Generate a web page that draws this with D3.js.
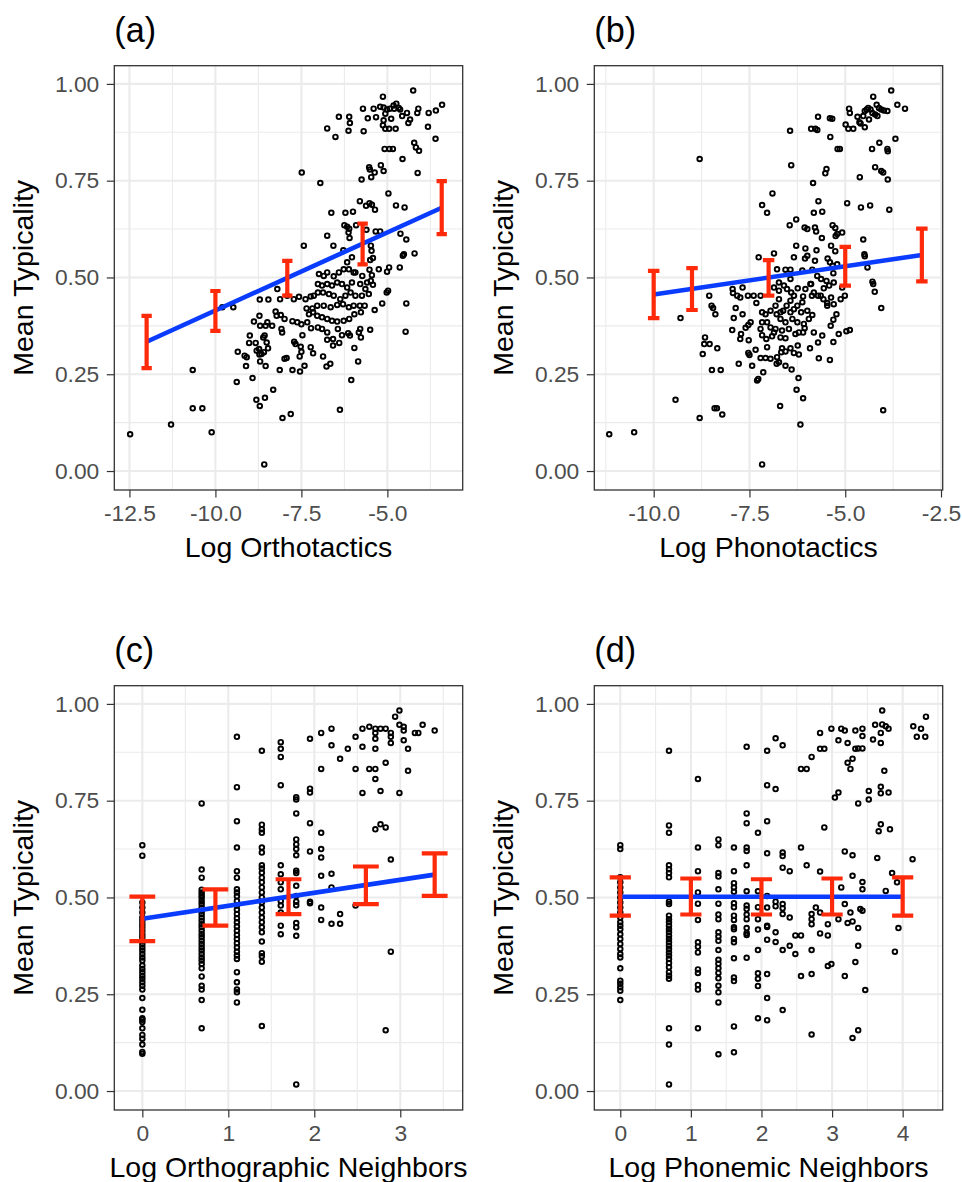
<!DOCTYPE html>
<html>
<head>
<meta charset="utf-8">
<script src="https://cdn.jsdelivr.net/npm/d3@7"></script>
<style>
  body { margin: 0; background: #fff; }
  svg text { font-family: "Liberation Sans", Arial, Helvetica, sans-serif; }
</style>
</head>
<body>
<div id="chart"></div>
<script>
const svgWidth = 962
const svgHeight = 1182

// tick labels
const yTicks = [0, 0.25, 0.5, 0.75, 1]
const xTicksA = [-12.5, -10, -7.5, -5]
const xTicksB = [-10, -7.5, -5, -2.5]
const xTicksC = [0, 1, 2, 3]
const xTicksD = [0, 1, 2, 3, 4]

const panelLabels = ["(a)", "(b)", "(c)", "(d)"]
const xTitles = ["Log Orthotactics", "Log Phonotactics", "Log Orthographic Neighbors", "Log Phonemic Neighbors"]
const yTitle = "Mean Typicality"

// model estimates (blue line goes through barMid)
const barXA = [-12, -10, -7.91, -5.72, -3.42]
const barMidA = [0.334, 0.414, 0.498, 0.586, 0.680]
const barLowA = [0.266, 0.362, 0.453, 0.534, 0.612]
const barHighA = [0.401, 0.465, 0.543, 0.639, 0.749]

const barXB = [-10, -9, -7, -5, -3]
const barMidB = [0.456, 0.470, 0.499, 0.529, 0.558]
const barLowB = [0.395, 0.416, 0.453, 0.479, 0.490]
const barHighB = [0.517, 0.524, 0.545, 0.579, 0.626]

const barXC = [0, 0.85, 1.7, 2.6, 3.4]
const barMidC = [0.445, 0.474, 0.502, 0.531, 0.559]
const barLowC = [0.387, 0.427, 0.457, 0.483, 0.504]
const barHighC = [0.502, 0.521, 0.547, 0.580, 0.614]

const barXD = [0, 1, 2, 3, 4]
const barMidD = [0.502, 0.502, 0.502, 0.502, 0.502]
const barLowD = [0.453, 0.456, 0.456, 0.456, 0.453]
const barHighD = [0.552, 0.549, 0.547, 0.549, 0.552]

// observed words [x, mean typicality]
const pointsA = [
[-4.25,0.983],[-5.13,0.967],[-3.41,0.946],[-3.59,0.931],[-3.80,0.925],[-3.82,0.889],[-3.60,0.858],[-4.10,0.936],[-4.13,0.925],[-4.43,0.925],
[-4.57,0.917],[-4.34,0.908],[-4.39,0.899],[-4.74,0.949],[-4.82,0.944],[-4.80,0.936],[-4.67,0.938],[-4.63,0.934],[-4.93,0.936],[-5.01,0.934],
[-5.06,0.923],[-5.21,0.941],[-5.11,0.939],[-5.33,0.914],[-5.40,0.936],[-5.57,0.911],[-5.71,0.936],[-5.69,0.878],[-6.11,0.915],[-6.09,0.899],
[-6.13,0.879],[-6.41,0.915],[-6.75,0.885],[-6.51,0.863],[-5.13,0.893],[-4.95,0.884],[-4.76,0.884],[-5.06,0.884],[-5.11,0.906],[-4.89,0.910],
[-4.22,0.848],[-4.17,0.836],[-4.08,0.827],[-4.56,0.806],[-5.08,0.832],[-4.94,0.832],[-4.84,0.832],[-5.53,0.785],[-5.51,0.779],[-5.19,0.790],
[-5.11,0.775],[-5.37,0.771],[-5.47,0.759],[-5.75,0.753],[-4.12,0.770],[-4.97,0.717],[-4.75,0.686],[-4.50,0.681],[-5.80,0.697],[-5.52,0.692],
[-5.45,0.688],[-5.36,0.675],[-5.62,0.685],[-7.49,0.771],[-6.95,0.744],[-6.63,0.667],[-6.22,0.667],[-6.00,0.670],[-6.25,0.635],[-6.17,0.631],
[-6.13,0.616],[-6.10,0.602],[-6.11,0.626],[-5.91,0.635],[-5.61,0.623],[-5.34,0.619],[-5.21,0.619],[-4.62,0.613],[-4.45,0.598],[-6.75,0.608],
[-7.43,0.582],[-6.57,0.582],[-6.28,0.570],[-6.03,0.552],[-5.48,0.582],[-5.46,0.569],[-5.50,0.545],[-5.42,0.550],[-4.95,0.526],[-5.01,0.515],
[-4.64,0.526],[-4.52,0.560],[-4.55,0.556],[-4.21,0.562],[-5.25,0.521],[-5.52,0.520],[-5.45,0.506],[-5.48,0.491],[-5.59,0.487],[-5.42,0.481],
[-5.93,0.513],[-5.73,0.504],[-6.12,0.521],[-5.98,0.513],[-6.17,0.539],[-6.27,0.521],[-6.41,0.513],[-6.56,0.503],[-6.75,0.513],[-6.85,0.504],
[-6.99,0.509],[-7.02,0.483],[-6.90,0.479],[-6.75,0.483],[-6.61,0.479],[-6.46,0.487],[-6.32,0.483],[-6.17,0.474],[-6.03,0.487],[-5.79,0.483],
[-5.64,0.470],[-5.54,0.457],[-5.74,0.453],[-5.93,0.453],[-6.07,0.461],[-6.22,0.453],[-6.37,0.444],[-6.56,0.453],[-6.70,0.457],[-6.87,0.461],
[-7.02,0.461],[-7.14,0.453],[-7.23,0.451],[-7.38,0.444],[-7.57,0.450],[-7.72,0.444],[-7.91,0.453],[-8.12,0.444],[-8.46,0.443],[-8.71,0.443],
[-9.48,0.423],[-9.80,0.423],[-8.20,0.470],[-5.02,0.461],[-4.98,0.466],[-4.45,0.433],[-4.47,0.360],[-5.15,0.433],[-5.37,0.416],[-5.66,0.427],
[-5.77,0.410],[-5.96,0.405],[-6.11,0.393],[-6.27,0.388],[-6.46,0.386],[-6.61,0.388],[-6.75,0.393],[-6.90,0.397],[-7.04,0.401],[-7.16,0.410],
[-7.28,0.405],[-7.35,0.420],[-7.18,0.420],[-7.04,0.427],[-6.85,0.427],[-6.65,0.423],[-6.46,0.429],[-6.29,0.431],[-6.12,0.423],[-5.98,0.427],
[-5.80,0.427],[-5.79,0.367],[-5.83,0.358],[-5.50,0.365],[-5.77,0.345],[-5.96,0.318],[-5.85,0.283],[-6.05,0.235],[-6.09,0.350],[-6.14,0.356],
[-6.32,0.351],[-6.44,0.367],[-6.58,0.341],[-6.58,0.324],[-6.75,0.358],[-6.75,0.339],[-6.90,0.367],[-7.02,0.371],[-7.22,0.369],[-7.33,0.384],
[-7.50,0.379],[-7.62,0.384],[-7.76,0.387],[-7.99,0.393],[-8.10,0.403],[-8.25,0.412],[-8.22,0.401],[-8.08,0.367],[-8.06,0.358],[-8.35,0.375],
[-8.49,0.384],[-8.54,0.375],[-8.72,0.401],[-8.88,0.386],[-8.70,0.375],[-9.00,0.350],[-9.02,0.331],[-8.83,0.331],[-8.73,0.315],[-8.61,0.345],
[-8.57,0.350],[-8.51,0.332],[-8.47,0.317],[-8.59,0.307],[-8.72,0.301],[-8.70,0.283],[-8.54,0.271],[-8.66,0.302],[-8.80,0.311],[-9.09,0.294],
[-9.15,0.298],[-9.35,0.308],[-9.11,0.271],[-8.92,0.240],[-9.38,0.230],[-8.13,0.261],[-7.99,0.290],[-7.93,0.292],[-7.71,0.334],[-7.67,0.328],
[-7.47,0.351],[-7.52,0.321],[-7.50,0.308],[-7.55,0.296],[-7.76,0.261],[-7.54,0.257],[-7.41,0.272],[-7.23,0.320],[-7.16,0.304],[-6.87,0.296],
[-6.77,0.270],[-6.66,0.277],[-6.40,0.331],[-10.66,0.261],[-10.66,0.162],[-10.38,0.162],[-11.29,0.120],[-10.11,0.100],[-12.48,0.095],[-8.81,0.184],
[-8.71,0.168],[-8.56,0.189],[-8.32,0.210],[-8.05,0.137],[-7.81,0.147],[-6.38,0.158],[-8.58,0.017]
]

const pointsB = [
[-3.80,0.983],[-4.27,0.967],[-3.64,0.946],[-3.44,0.936],[-4.18,0.946],[-4.12,0.938],[-4.06,0.934],[-3.99,0.931],[-3.90,0.930],[-4.40,0.938],
[-4.34,0.934],[-4.44,0.934],[-4.29,0.925],[-4.22,0.921],[-4.16,0.917],[-4.49,0.930],[-4.53,0.917],[-4.38,0.908],[-4.90,0.936],[-4.88,0.925],
[-4.68,0.915],[-4.63,0.901],[-4.60,0.898],[-4.49,0.888],[-4.99,0.895],[-4.92,0.884],[-4.79,0.884],[-5.40,0.911],[-5.34,0.910],[-5.71,0.915],
[-5.89,0.884],[-5.78,0.884],[-5.73,0.881],[-6.44,0.879],[-5.39,0.863],[-3.69,0.858],[-4.11,0.848],[-4.30,0.832],[-3.90,0.832],[-3.89,0.826],
[-5.14,0.832],[-5.20,0.832],[-8.80,0.806],[-6.41,0.790],[-5.49,0.780],[-5.52,0.769],[-4.22,0.785],[-4.06,0.775],[-4.01,0.771],[-3.89,0.753],
[-4.62,0.759],[-5.84,0.744],[-6.90,0.717],[-5.70,0.697],[-4.95,0.692],[-4.59,0.681],[-4.35,0.686],[-3.85,0.675],[-7.17,0.687],[-7.04,0.667],
[-5.82,0.667],[-5.60,0.670],[-6.45,0.635],[-6.28,0.650],[-6.06,0.629],[-5.99,0.625],[-5.79,0.629],[-5.76,0.619],[-5.33,0.635],[-5.26,0.628],
[-5.08,0.616],[-5.21,0.612],[-5.25,0.607],[-5.61,0.602],[-4.53,0.598],[-6.28,0.582],[-6.04,0.575],[-5.75,0.570],[-5.99,0.556],[-6.05,0.549],
[-5.79,0.543],[-5.46,0.549],[-5.37,0.582],[-5.26,0.568],[-5.40,0.539],[-5.33,0.530],[-5.21,0.534],[-6.34,0.552],[-6.86,0.562],[-7.26,0.552],
[-4.50,0.560],[-4.49,0.555],[-4.42,0.526],[-4.29,0.489],[-4.27,0.483],[-4.23,0.463],[-4.06,0.421],[-5.08,0.474],[-5.01,0.453],[-5.12,0.444],
[-5.31,0.511],[-5.30,0.487],[-5.42,0.479],[-5.49,0.491],[-5.56,0.472],[-5.63,0.496],[-5.73,0.504],[-5.91,0.483],[-5.82,0.461],[-5.71,0.453],
[-5.57,0.444],[-5.47,0.434],[-5.30,0.431],[-5.23,0.405],[-5.31,0.391],[-5.38,0.375],[-5.17,0.354],[-4.97,0.361],[-4.88,0.364],[-5.31,0.333],
[-5.60,0.350],[-5.71,0.332],[-5.82,0.358],[-5.92,0.317],[-5.69,0.291],[-5.40,0.287],[-6.10,0.358],[-6.06,0.369],[-6.30,0.354],[-6.24,0.324],
[-6.43,0.317],[-6.34,0.305],[-6.21,0.301],[-6.65,0.317],[-6.67,0.307],[-6.56,0.309],[-6.78,0.294],[-6.79,0.277],[-6.73,0.281],[-6.56,0.272],
[-6.40,0.262],[-6.95,0.290],[-7.08,0.292],[-7.21,0.292],[-7.34,0.313],[-7.53,0.305],[-7.50,0.300],[-7.43,0.272],[-7.78,0.277],[-7.14,0.255],
[-7.30,0.234],[-7.27,0.238],[-6.22,0.240],[-6.27,0.210],[-6.10,0.188],[-6.70,0.168],[-6.17,0.120],[-7.17,0.017],[-4.01,0.157],[-9.43,0.184],
[-8.80,0.137],[-8.41,0.162],[-8.35,0.162],[-8.21,0.146],[-11.16,0.095],[-10.51,0.100],[-8.48,0.261],[-8.25,0.261],[-8.72,0.302],[-8.68,0.328],
[-8.54,0.328],[-8.66,0.345],[-8.34,0.317],[-9.30,0.395],[-8.55,0.453],[-8.49,0.427],[-8.45,0.421],[-8.39,0.405],[-7.94,0.470],[-7.93,0.460],
[-7.82,0.453],[-7.68,0.474],[-7.74,0.448],[-7.54,0.453],[-7.39,0.453],[-7.21,0.453],[-7.32,0.434],[-7.86,0.421],[-7.91,0.395],[-7.68,0.405],
[-7.47,0.384],[-7.53,0.377],[-7.60,0.370],[-7.72,0.354],[-7.74,0.341],[-7.95,0.364],[-7.52,0.338],[-7.17,0.351],[-7.06,0.341],[-6.91,0.348],
[-7.04,0.320],[-6.86,0.474],[-6.73,0.466],[-6.60,0.479],[-6.52,0.470],[-6.41,0.461],[-6.34,0.453],[-6.43,0.440],[-6.53,0.427],[-6.62,0.414],
[-6.73,0.444],[-6.82,0.427],[-6.95,0.414],[-7.08,0.405],[-7.17,0.410],[-6.79,0.405],[-6.69,0.393],[-6.56,0.384],[-6.34,0.418],[-6.25,0.427],
[-6.12,0.436],[-6.15,0.410],[-5.99,0.414],[-5.86,0.403],[-5.95,0.393],[-6.08,0.380],[-6.25,0.384],[-6.38,0.393],[-6.47,0.367],[-6.65,0.363],
[-6.82,0.367],[-6.95,0.371],[-7.04,0.384],[-7.17,0.384],[-7.21,0.367],[-6.86,0.358],[-6.69,0.345],[-6.56,0.343],[-6.78,0.521],[-6.56,0.520],
[-6.43,0.520],[-6.12,0.518],[-5.89,0.483],[-5.86,0.520],[-6.10,0.451],[-6.24,0.472],[-6.04,0.470],[-5.87,0.453],[-5.64,0.453],[-5.47,0.427],
[-5.37,0.448],[-6.43,0.496],[-6.73,0.487],[-6.69,0.410],[-6.43,0.410],[-6.21,0.358]
]

// columns of words sharing the same neighbour count [x, [typicality...]]
const pointsC = [
[0, [0.635,0.608,0.487,0.474,0.461,0.448,0.440,0.431,0.423,0.414,0.405,0.397,0.388,0.380,0.371,0.363,0.354,0.345,0.337,0.324,0.315,0.307,0.298,0.290,0.281,0.272,0.262,0.240,0.210,0.188,0.184,0.178,0.162,0.145,0.135,0.120,0.101,0.096]],
[0.69, [0.743,0.572,0.551,0.520,0.513,0.506,0.499,0.491,0.483,0.474,0.466,0.457,0.448,0.440,0.431,0.423,0.414,0.405,0.397,0.388,0.380,0.371,0.363,0.354,0.345,0.337,0.328,0.317,0.296,0.272,0.262,0.235,0.162]],
[1.10, [0.915,0.785,0.697,0.629,0.568,0.551,0.521,0.513,0.503,0.491,0.479,0.468,0.457,0.446,0.436,0.425,0.414,0.403,0.393,0.382,0.371,0.360,0.350,0.341,0.307,0.281,0.262,0.255,0.229]],
[1.39, [0.879,0.688,0.676,0.667,0.629,0.616,0.583,0.575,0.564,0.551,0.539,0.526,0.513,0.500,0.487,0.474,0.461,0.448,0.436,0.423,0.410,0.386,0.356,0.348,0.334,0.168]],
[1.61, [0.901,0.884,0.863,0.790,0.583,0.560,0.539,0.521,0.491,0.479,0.461,0.427,0.405]],
[1.79, [0.759,0.753,0.717,0.650,0.637,0.625,0.609,0.569,0.563,0.530,0.504,0.489,0.480,0.434,0.423,0.401,0.017]],
[1.95, [0.910,0.781,0.771,0.692,0.619,0.489,0.485]],
[2.08, [0.925,0.832,0.667,0.625,0.603,0.556,0.474,0.442]],
[2.20, [0.936,0.893,0.561,0.526,0.432]],
[2.30, [0.858,0.457,0.432]],
[2.39, [0.884]],
[2.48, [0.915,0.832,0.479]],
[2.56, [0.936,0.889,0.770]],
[2.64, [0.941,0.832]],
[2.71, [0.936,0.925,0.910,0.884,0.832,0.806,0.676]],
[2.77, [0.936,0.775,0.689]],
[2.83, [0.936,0.848,0.681,0.157]],
[2.89, [0.925,0.915,0.899,0.598,0.360]],
[2.94, [0.967]],
[2.99, [0.983,0.946,0.770]],
[3.04, [0.941,0.931,0.906]],
[3.09, [0.884,0.827]],
[3.17, [0.925]],
[3.21, [0.925]],
[3.26, [0.946]],
[3.40, [0.931]]
]

const pointsD = [
[0, [0.635,0.625,0.552,0.539,0.526,0.513,0.500,0.487,0.474,0.461,0.448,0.436,0.427,0.418,0.405,0.393,0.380,0.367,0.354,0.345,0.317,0.285,0.277,0.268,0.259,0.235]],
[0.69, [0.879,0.686,0.667,0.583,0.573,0.563,0.552,0.489,0.483,0.453,0.444,0.436,0.427,0.418,0.410,0.401,0.393,0.384,0.375,0.367,0.358,0.350,0.341,0.331,0.320,0.307,0.298,0.290,0.162,0.120,0.017]],
[1.10, [0.806,0.629,0.568,0.513,0.484,0.442,0.384,0.373,0.358,0.314,0.305,0.274,0.262,0.162]],
[1.39, [0.650,0.635,0.563,0.554,0.521,0.484,0.456,0.444,0.410,0.399,0.388,0.364,0.339,0.329,0.317,0.305,0.291,0.272,0.255,0.229,0.095]],
[1.61, [0.629,0.568,0.537,0.526,0.515,0.485,0.475,0.453,0.442,0.423,0.418,0.393,0.384,0.343,0.293,0.284,0.167,0.100]],
[1.79, [0.889,0.717,0.692,0.629,0.620,0.583,0.516,0.479,0.470,0.456,0.444,0.421,0.408,0.403,0.344]],
[1.95, [0.667,0.516,0.475,0.444,0.417,0.364,0.304,0.290,0.271,0.188]],
[2.08, [0.879,0.790,0.697,0.614,0.504,0.474,0.427,0.424,0.391,0.302,0.240,0.183]],
[2.20, [0.911,0.780,0.489,0.477,0.410,0.385]],
[2.30, [0.893,0.616,0.607,0.577,0.483,0.472,0.457,0.364,0.209]],
[2.40, [0.568,0.448,0.375]],
[2.48, [0.402,0.354]],
[2.56, [0.832,0.629,0.402,0.297]],
[2.64, [0.832,0.583]],
[2.71, [0.863,0.457,0.444,0.431,0.364,0.302,0.146]],
[2.77, [0.474]],
[2.83, [0.925,0.884,0.567,0.461,0.407]],
[2.89, [0.884,0.681]],
[2.94, [0.431,0.402,0.323]],
[2.99, [0.936,0.328]],
[3.04, [0.758]],
[3.09, [0.771,0.906,0.444]],
[3.13, [0.936,0.526]],
[3.18, [0.931,0.619,0.483,0.297]],
[3.22, [0.899,0.434,0.848]],
[3.26, [0.461,0.832]],
[3.29, [0.858,0.609,0.556,0.438,0.137]],
[3.33, [0.931,0.884,0.333]],
[3.37, [0.743,0.421,0.375,0.157,0.885]],
[3.40, [0.470]],
[3.43, [0.936,0.917,0.885,0.540,0.521,0.466]],
[3.47, [0.261]],
[3.52, [0.775,0.753]],
[3.58, [0.908]],
[3.61, [0.946]],
[3.64, [0.602]],
[3.66, [0.671]],
[3.69, [0.786,0.769,0.689,0.925,0.899]],
[3.71, [0.983,0.947]],
[3.74, [0.827]],
[3.76, [0.942,0.517]],
[3.80, [0.936,0.771]],
[3.82, [0.676]],
[3.85, [0.563]],
[3.89, [0.360]],
[3.92, [0.539]],
[3.94, [0.421]],
[4.14, [0.599]],
[4.15, [0.942]],
[4.20, [0.915]],
[4.26, [0.936]],
[4.32, [0.915]],
[4.33, [0.967]]
]

// layout
const panelW = 348.4
const panelH = 424.3
const yDomain = [-0.049, 1.047]
const barHalfWidth = 0.15
const fontSans = '"Liberation Sans", Arial, Helvetica, sans-serif'

const flatten = cols => cols.flatMap(([x, ys]) => ys.map(v => [x, v]))

const bars = (xs, mid, lo, hi) => xs.map((x, i) => ({ x: x, mid: mid[i], lo: lo[i], hi: hi[i] }))

const panels = [
  { left: 114.3, top: 65.7, xDomain: [-12.94, -2.81], xTicks: xTicksA, fmt: d => d.toFixed(1),
    points: pointsA, bars: bars(barXA, barMidA, barLowA, barHighA) },
  { left: 594.3, top: 65.7, xDomain: [-11.55, -2.456], xTicks: xTicksB, fmt: d => d.toFixed(1),
    points: pointsB, bars: bars(barXB, barMidB, barLowB, barHighB) },
  { left: 114.3, top: 685.7, xDomain: [-0.326, 3.726], xTicks: xTicksC, fmt: d => d.toFixed(0),
    points: flatten(pointsC), bars: bars(barXC, barMidC, barLowC, barHighC) },
  { left: 594.3, top: 685.7, xDomain: [-0.368, 4.567], xTicks: xTicksD, fmt: d => d.toFixed(0),
    points: flatten(pointsD), bars: bars(barXD, barMidD, barLowD, barHighD) }
]

const svg = d3.select("#chart").append("svg")
  .attr("width", svgWidth)
  .attr("height", svgHeight)
  .style("display", "block")

svg.append("rect").attr("width", svgWidth).attr("height", svgHeight).attr("fill", "#fff")

// minor breaks sit half way between the major ones
function minorBreaks(ticks, domain) {
  const step = ticks[1] - ticks[0]
  const out = []
  for (let v = ticks[0] - step / 2; v <= domain[1]; v += step) {
    if (v >= domain[0]) out.push(v)
  }
  return out
}

function styleAxis(a) {
  a.select(".domain").remove()
  a.attr("font-family", null).attr("font-size", null)
  a.selectAll(".tick line").attr("stroke", "#333333").attr("stroke-width", 1.2)
  a.selectAll(".tick text")
    .attr("fill", "#4D4D4D")
    .style("font-size", "22.8px")
    .style("font-family", fontSans)
}

panels.forEach((p, i) => {
  const g = svg.append("g").attr("transform", `translate(${p.left}, ${p.top})`)

  const x = d3.scaleLinear().domain(p.xDomain).range([0, panelW])
  const y = d3.scaleLinear().domain(yDomain).range([panelH, 0])

  g.append("rect").attr("width", panelW).attr("height", panelH).attr("fill", "#fff")

  // grid
  const grid = g.append("g").attr("fill", "none").attr("stroke", "#EBEBEB")
  grid.selectAll(".vminor").data(minorBreaks(p.xTicks, p.xDomain)).enter().append("line")
    .attr("x1", d => x(d)).attr("x2", d => x(d)).attr("y1", 0).attr("y2", panelH)
    .attr("stroke-width", 1.1)
  grid.selectAll(".hminor").data(minorBreaks(yTicks, yDomain)).enter().append("line")
    .attr("y1", d => y(d)).attr("y2", d => y(d)).attr("x1", 0).attr("x2", panelW)
    .attr("stroke-width", 1.1)
  grid.selectAll(".vmajor").data(p.xTicks).enter().append("line")
    .attr("x1", d => x(d)).attr("x2", d => x(d)).attr("y1", 0).attr("y2", panelH)
    .attr("stroke-width", 2.1)
  grid.selectAll(".hmajor").data(yTicks).enter().append("line")
    .attr("y1", d => y(d)).attr("y2", d => y(d)).attr("x1", 0).attr("x2", panelW)
    .attr("stroke-width", 2.1)

  // words
  g.append("g").selectAll("circle")
    .data(p.points)
    .enter()
    .append("circle")
    .attr("cx", d => x(d[0]))
    .attr("cy", d => y(d[1]))
    .attr("r", 2.3)
    .attr("fill", "none")
    .attr("stroke", "#000")
    .attr("stroke-width", 1.9)

  // fitted line through the estimates
  const line = d3.line().x(d => x(d.x)).y(d => y(d.mid))
  g.append("path")
    .datum([p.bars[0], p.bars[p.bars.length - 1]])
    .attr("d", line)
    .attr("fill", "none")
    .attr("stroke", "#0A3CFF")
    .attr("stroke-width", 4.6)

  // error bars
  g.append("g").selectAll("path")
    .data(p.bars)
    .enter()
    .append("path")
    .attr("d", d => {
      const xl = x(d.x - barHalfWidth), xr = x(d.x + barHalfWidth), xc = x(d.x)
      return `M${xl},${y(d.hi)}H${xr}M${xc},${y(d.hi)}V${y(d.lo)}M${xl},${y(d.lo)}H${xr}`
    })
    .attr("fill", "none")
    .attr("stroke", "#FF2A0A")
    .attr("stroke-width", 4.2)

  // border
  g.append("rect").attr("width", panelW).attr("height", panelH)
    .attr("fill", "none").attr("stroke", "#333333").attr("stroke-width", 1.3)

  // axes
  g.append("g")
    .attr("transform", `translate(0, ${panelH})`)
    .call(d3.axisBottom(x).tickValues(p.xTicks).tickFormat(p.fmt).tickSize(7.5).tickPadding(7.3))
    .call(styleAxis)

  g.append("g")
    .call(d3.axisLeft(y).tickValues(yTicks).tickFormat(d => d.toFixed(2)).tickSize(7.5).tickPadding(7.5))
    .call(styleAxis)

  // titles
  g.append("text")
    .attr("x", 0).attr("y", -24)
    .style("font-size", "34.2px")
    .attr("fill", "#000")
    .text(panelLabels[i])

  g.append("text")
    .attr("x", panelW / 2).attr("y", panelH + 66.7)
    .attr("text-anchor", "middle")
    .style("font-size", "28.5px")
    .attr("fill", "#000")
    .text(xTitles[i])

  g.append("text")
    .attr("transform", `translate(-81, ${panelH / 2}) rotate(-90)`)
    .attr("text-anchor", "middle")
    .style("font-size", "28.5px")
    .attr("fill", "#000")
    .text(yTitle)
})
</script>
</body>
</html>
